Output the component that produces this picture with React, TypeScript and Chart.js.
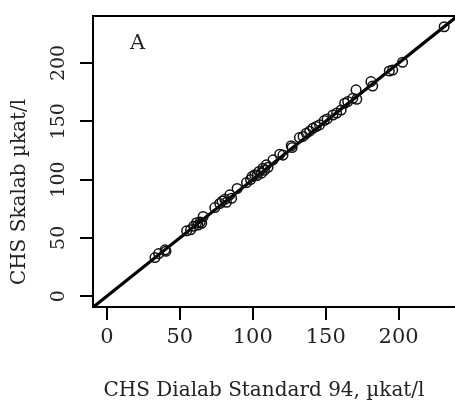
import React, { useEffect, useRef } from "react";
import { Chart, registerables } from "chart.js";

Chart.register(...registerables);

// CHS Dialab Standard 94 (x) vs CHS Skalab (y), µkat/l
const dialab = [
  33.0, 35.5, 39.9, 40.5, 54.7, 57.4, 59.5, 61.5, 62.5, 64.0, 66.0, 65.0,
  74.0, 77.4, 79.0, 80.9, 82.0, 84.3, 85.5, 89.3, 95.7, 98.5, 99.5, 101.4,
  103.0, 104.3, 106.0, 107.0, 108.0, 109.3, 110.5, 113.9, 118.5, 120.7,
  126.4, 127.0, 132.0, 134.5, 136.7, 139.0, 141.2, 143.5, 145.8, 149.0,
  151.0, 154.9, 157.5, 160.6, 163.0, 165.1, 168.6, 170.8, 171.3, 181.0,
  182.2, 193.6, 195.9, 202.7, 231.2,
];
const skalab = [
  33.1, 36.5, 39.7, 38.5, 56.0, 56.9, 60.0, 63.0, 61.0, 63.5, 68.3, 62.5,
  76.0, 79.5, 81.5, 83.0, 80.5, 86.9, 84.0, 92.3, 97.4, 100.0, 102.5, 104.0,
  103.5, 106.9, 105.5, 109.7, 108.0, 112.6, 110.5, 116.9, 121.7, 121.0,
  129.0, 127.5, 136.0, 137.0, 139.7, 141.5, 144.0, 145.5, 146.9, 150.6,
  152.0, 155.4, 157.0, 159.7, 165.5, 166.9, 169.7, 176.9, 168.9, 184.0,
  180.3, 193.1, 194.0, 200.6, 231.1,
];

// identity / fit line
const fitSlope = 1;
const fitIntercept = 0;

const xTickValues = [0, 50, 100, 150, 200];
const yTickValues = [0, 50, 100, 150, 200];

const xMin = -9.5;
const xMax = 240;
const yMin = -9.3;
const yMax = 240.3;

const xTitle = "CHS Dialab Standard 94, µkat/l";
const yTitle = "CHS Skalab µkat/l";
const panelLabel = "A";

const FONT = "'DejaVu Serif', serif";
const TEXT = "#222";

export default function App() {
  const ref = useRef<HTMLCanvasElement | null>(null);

  useEffect(() => {
    const canvas = ref.current;
    if (!canvas) return;

    const points = dialab.map((x, i) => ({ x, y: skalab[i] }));
    const lineXs = [xMin - 20, xMax + 20];
    const linePts = lineXs.map((x) => ({ x, y: fitIntercept + fitSlope * x }));

    const boxPlugin = {
      id: "boxAndText",
      afterDatasetsDraw(chart: any) {
        const { ctx, chartArea } = chart;
        const { left, top, right, bottom } = chartArea;
        ctx.save();
        ctx.strokeStyle = "#000";
        ctx.lineWidth = 2;
        ctx.strokeRect(left, top, right - left, bottom - top);

        ctx.fillStyle = TEXT;
        ctx.textAlign = "center";
        ctx.textBaseline = "middle";
        ctx.font = `21px ${FONT}`;
        const xs = chart.scales.x;
        const ys = chart.scales.y;
        ctx.fillText(panelLabel, xs.getPixelForValue(21), ys.getPixelForValue(217));

        ctx.font = `20px ${FONT}`;
        ctx.fillText(xTitle, 264, 391);

        ctx.translate(20, 192);
        ctx.rotate(-Math.PI / 2);
        ctx.fillText(yTitle, 0, 0);
        ctx.restore();
      },
    };

    const chart = new Chart(canvas, {
      type: "scatter",
      data: {
        datasets: [
          {
            label: "samples",
            data: points,
            pointStyle: "circle",
            pointRadius: 4.8,
            pointBorderWidth: 1.5,
            pointBorderColor: "#111",
            pointBackgroundColor: "rgba(0,0,0,0)",
            borderColor: "#111",
            backgroundColor: "rgba(0,0,0,0)",
            showLine: false,
          },
          {
            label: "fit",
            data: linePts,
            showLine: true,
            borderColor: "#000",
            borderWidth: 3.2,
            pointRadius: 0,
            clip: 0,
          } as any,
        ],
      },
      options: {
        responsive: false,
        animation: false,
        layout: { padding: { top: 16, right: 13, left: 0, bottom: 0 } },
        plugins: {
          legend: { display: false },
          tooltip: { enabled: false },
        },
        scales: {
          x: {
            type: "linear",
            min: xMin,
            max: xMax,
            afterBuildTicks: (s: any) => {
              s.ticks = xTickValues.map((v) => ({ value: v }));
            },
            afterFit: (s: any) => {
              s.height = 100;
            },
            grid: {
              drawOnChartArea: false,
              drawTicks: true,
              tickLength: 13,
              color: "#000",
              lineWidth: 2,
            },
            border: { display: false },
            ticks: {
              font: { family: FONT, size: 21 },
              color: TEXT,
              padding: 5,
              maxRotation: 0,
              minRotation: 0,
              autoSkip: false,
            },
          },
          y: {
            type: "linear",
            min: yMin,
            max: yMax,
            afterBuildTicks: (s: any) => {
              s.ticks = yTickValues.map((v) => ({ value: v }));
            },
            afterFit: (s: any) => {
              s.width = 93;
            },
            grid: {
              drawOnChartArea: false,
              drawTicks: true,
              tickLength: 13,
              color: "#000",
              lineWidth: 2,
            },
            border: { display: false },
            ticks: {
              font: { family: FONT, size: 19 },
              color: TEXT,
              padding: 3,
              minRotation: 90,
              maxRotation: 90,
              crossAlign: "center",
              autoSkip: false,
            },
          },
        },
      } as any,
      plugins: [boxPlugin],
    });

    return () => chart.destroy();
  }, []);

  return (
    <div
      style={{
        position: "fixed",
        left: 0,
        top: 0,
        width: 455,
        height: 407,
        overflow: "hidden",
        background: "#fff",
      }}
    >
      <canvas ref={ref} width={470} height={407} style={{ display: "block" }} />
    </div>
  );
}
